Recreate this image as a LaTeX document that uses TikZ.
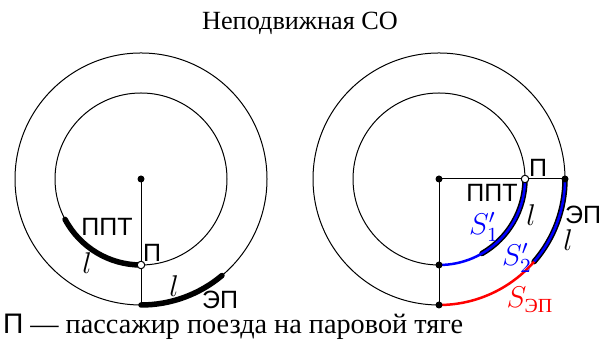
\documentclass[tikz,border=0pt]{standalone}
\usepackage[no-math]{fontspec}
\setmainfont{Liberation Serif}
\setsansfont{Liberation Sans}
\usepackage{amsmath}
\usetikzlibrary{calc}
\tikzset{ring/.style={draw,line width=0.4pt},track/.style={draw,line width=2.2pt,line cap=round},pathblue/.style={draw=blue,line width=1pt},pathred/.style={draw=red,line width=1pt},dot/.style={circle,fill,inner sep=0pt,minimum size=2.8pt},pass/.style={circle,draw,fill=white,inner sep=0pt,minimum size=3pt,line width=0.4pt},lab/.style={font=\sffamily,inner sep=1pt},mlab/.style={font=\large,inner sep=1pt}}

\begin{document}
\begin{tikzpicture}[x=0.4pt,y=0.4pt]
\useasboundingbox (0,0) rectangle (605,344);
\node[font=\fontsize{10.5}{12}\selectfont] (title) at (300,321) {Неподвижная СО};
% left: both trains start together
\coordinate (O1) at (141,165);
\draw[ring] (O1) circle[radius=86] (O1) circle[radius=126];
\coordinate (P1) at ($(O1)+(270:86)$);
\coordinate (B1) at ($(O1)+(270:126)$);
\coordinate (A1) at ($(O1)+(208:86)$);
\draw[ring] (O1) -- (B1);
\draw[track] (A1) arc[start angle=208,end angle=270,radius=86];
\draw[track] (B1) arc[start angle=270,end angle=310,radius=126];
\node[dot] (c1) at (O1) {};
\node[pass] (pass1) at (P1) {};
\node[lab] (ppt1) at (107,117) {ППТ};
\node[lab] (p1) at (152,91) {П};
\node[mlab] (l1) at (87,81) {$l$};
\node[mlab] (l2) at (174,58) {$l$};
\node[lab] (ep1) at (220,44) {ЭП};
% right: after the trains move
\coordinate (O2) at (439,165);
\draw[ring] (O2) circle[radius=86] (O2) circle[radius=126];
\coordinate (P2) at ($(O2)+(0:86)$);
\coordinate (Q2) at ($(O2)+(0:126)$);
\coordinate (C2) at ($(O2)+(270:86)$);
\coordinate (B2) at ($(O2)+(270:126)$);
\coordinate (M2) at ($(O2)+(-41:126)$);
\draw[ring] (B2) -- (O2) -- (Q2);
\draw[track] (P2) arc[start angle=0,end angle=-60,radius=86];
\draw[track] (Q2) arc[start angle=0,end angle=-41,radius=126];
\draw[pathblue] (P2) arc[start angle=0,end angle=-90,radius=86];
\draw[pathblue] (Q2) arc[start angle=0,end angle=-41,radius=126];
\draw[pathred] (M2) arc[start angle=-41,end angle=-90,radius=126];
\node[dot] (c2) at (O2) {};
\node[dot] (d2) at (C2) {};
\node[dot] (e2) at (B2) {};
\node[dot] (f2) at (Q2) {};
\node[pass] (pass2) at (P2) {};
\node[lab] (p2) at (538,176) {П};
\node[lab] (ppt2) at (492,151) {ППТ};
\node[mlab] (l3) at (531,129) {$l$};
\node[lab,inner sep=0pt] (ep2) at (583,129) {ЭП};
\node[mlab,inner sep=0pt] (l4) at (568,104) {$l$};
\node[mlab,text=blue] (s1) at (484,117) {$S'_1$};
\node[mlab,text=blue] (s2) at (517,86) {$S'_2$};
\node[mlab,text=red] (sep) at (530,44) {$S_{\text{ЭП}}$};
\node[anchor=west,inner sep=1pt,font=\fontsize{11.3}{13}\selectfont] (note) at (0,17) {\textsf{П} — пассажир поезда на паровой тяге};
\end{tikzpicture}
\end{document}
